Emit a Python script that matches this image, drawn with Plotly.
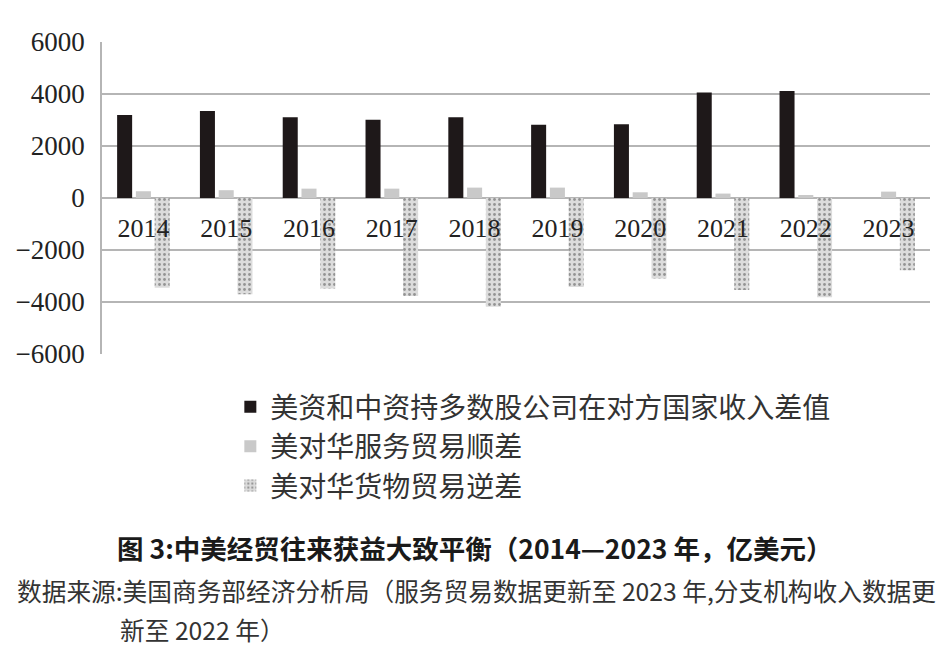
import plotly.graph_objects as go

# 年份与三组数据（亿美元）
years = ["2014", "2015", "2016", "2017", "2018", "2019", "2020", "2021", "2022", "2023"]
income_gap = [3190, 3350, 3110, 3010, 3110, 2820, 2840, 4060, 4120, None]
service_surplus = [260, 300, 360, 360, 400, 400, 220, 170, 115, 245]
goods_deficit = [-3450, -3700, -3480, -3770, -4180, -3420, -3100, -3540, -3820, -2780]
y_ticks = [-6000, -4000, -2000, 0, 2000, 4000, 6000]

series_names = [
    "美资和中资持多数股公司在对方国家收入差值",
    "美对华服务贸易顺差",
    "美对华货物贸易逆差",
]

title_text = "<b>图 3:中美经贸往来获益大致平衡（2014—2023 年，亿美元）</b>"
source_lines = [
    "数据来源:美国商务部经济分析局（服务贸易数据更新至 2023 年,分支机构收入数据更",
    "新至 2022 年）",
]

SERIF = "Liberation Serif"
CJK = "Noto Sans CJK SC"

fig = go.Figure()
fig.add_trace(go.Bar(x=years, y=income_gap, name=series_names[0],
                     marker=dict(color="#1e1819", line=dict(width=0))))
fig.add_trace(go.Bar(x=years, y=service_surplus, name=series_names[1],
                     marker=dict(color="#c9c9c9", line=dict(width=0))))
fig.add_trace(go.Bar(x=years, y=goods_deficit, name=series_names[2],
                     marker=dict(color="#dcdcdc", line=dict(width=0),
                                 pattern=dict(shape=".", fgcolor="#4a4a4a",
                                              bgcolor="#dcdcdc", size=5, solidity=0.25))))

# 页面自带 8px 边距，画布尺寸相应缩小
fig.update_layout(
    width=939, height=653,
    font=dict(family=SERIF, color="#222222"),
    paper_bgcolor="white", plot_bgcolor="white",
    margin=dict(l=94, r=17, t=34, b=307),
    barmode="group", bargap=0.32, bargroupgap=0.2,
    showlegend=True,
    legend=dict(x=0.155, y=-0.09, xanchor="left", yanchor="top",
                font=dict(family=CJK, size=28, color="#333333"),
                itemwidth=30, bgcolor="rgba(0,0,0,0)"),
    xaxis=dict(type="category", anchor="free", position=0.5, automargin=False,
               showline=False, showgrid=False,
               ticks="outside", ticklen=7, tickcolor="rgba(0,0,0,0)",
               tickfont=dict(family=SERIF, size=26, color="#222222"),
               layer="above traces"),
    yaxis=dict(range=[-6000, 6000], tickmode="array", tickvals=y_ticks,
               ticktext=[str(v).replace("-", "\u2212") for v in y_ticks],
               automargin=False,
               showgrid=True, gridcolor="#b5b5b5", gridwidth=1.5,
               zeroline=True, zerolinecolor="#b5b5b5", zerolinewidth=1.5,
               showline=True, linecolor="#b5b5b5", linewidth=1.5,
               ticks="", ticklabelstandoff=10,
               tickfont=dict(family=SERIF, size=27, color="#222222")),
)

fig.add_annotation(text=title_text, xref="paper", yref="paper",
                   x=0.45, y=-0.62, xanchor="center", yanchor="middle",
                   showarrow=False, font=dict(family=CJK, size=26.5, color="#1a1a1a"))
fig.add_annotation(text=source_lines[0], xref="paper", yref="paper",
                   x=-0.105, y=-0.755, xanchor="left", yanchor="middle",
                   showarrow=False, font=dict(family=CJK, size=24.7, color="#333333"))
fig.add_annotation(text=source_lines[1], xref="paper", yref="paper",
                   x=0.019, y=-0.88, xanchor="left", yanchor="middle",
                   showarrow=False, font=dict(family=CJK, size=24.7, color="#333333"))

fig.write_html("out.html")
